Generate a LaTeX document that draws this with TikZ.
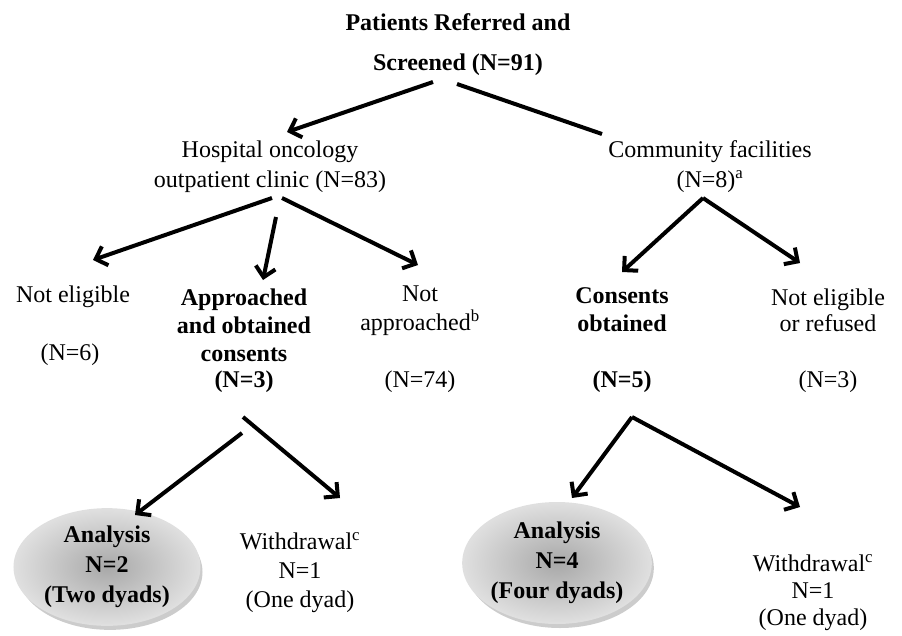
\documentclass[tikz,border=0pt]{standalone}
\usepackage{fontspec}
\setmainfont{Liberation Serif}
\usetikzlibrary{arrows.meta,shapes.geometric,shadows}

\begin{document}
\begin{tikzpicture}[
  x=1pt, y=-1pt,
  txt/.style={font=\fontsize{24}{29}\selectfont, align=center, inner sep=0pt},
  btxt/.style={font=\fontsize{24}{28}\selectfont\bfseries, align=center, inner sep=0pt},
  arr/.style={line width=4pt, -{Straight Barb[length=10pt,width=20pt]}},
  lnk/.style={line width=4pt},
  oval/.style={ellipse, inner sep=0pt, inner color=gray!68, outer color=gray!25,
    draw=white!75!gray, line width=2pt,
    drop shadow={opacity=0.5, shadow xshift=3pt, shadow yshift=-5pt, fill=gray!80}},
]
\useasboundingbox (0,0) rectangle (902,635);

\node [btxt, font=\fontsize{24}{40}\selectfont\bfseries] (top) at (458,45) {Patients Referred and\\Screened (N=91)};

\node [txt, font=\fontsize{24}{30}\selectfont] (hosp) at (270,167) {Hospital oncology\\outpatient clinic (N=83)};
\node [txt, font=\fontsize{24}{30}\selectfont] (comm) at (710,167) {Community facilities\\(N=8)\textsuperscript{a}};

\node [txt] (nelig) at (73,297) {Not eligible};
\node [txt] (nelign) at (70,355) {(N=6)};
\node [btxt] (appr) at (244,325) {Approached\\and obtained\\consents};
\node [btxt] (apprn) at (244,382) {(N=3)};
\node [txt] (nappr) at (420,311) {Not\\approached\textsuperscript{b}};
\node [txt] (napprn) at (420,382) {(N=74)};

\node [btxt] (cons) at (622,310) {Consents\\obtained};
\node [btxt] (consn) at (622,382) {(N=5)};
\node [txt, font=\fontsize{24}{26}\selectfont] (nref) at (828,310) {Not eligible\\or refused};
\node [txt] (nrefn) at (828,382) {(N=3)};

\node [oval, btxt, minimum width=185pt, minimum height=112pt, font=\fontsize{24}{30}\selectfont\bfseries] (anl) at (107,567) {Analysis\\N=2\\(Two dyads)};
\node [txt] (wdl) at (300,573) {Withdrawal\textsuperscript{c}\\N=1\\(One dyad)};
\node [oval, btxt, minimum width=148pt, minimum height=120pt, font=\fontsize{24}{30}\selectfont\bfseries] (anr) at (557,563) {Analysis\\N=4\\(Four dyads)};
\node [txt, font=\fontsize{24}{27}\selectfont] (wdr) at (813,593) {Withdrawal\textsuperscript{c}\\N=1\\(One dyad)};

% arrow ends
\coordinate (topl) at (433,82);
\coordinate (topr) at (457,84);
\coordinate (hospin) at (287,132);
\coordinate (commin) at (602,134);
\coordinate (hospl) at (272,198);
\coordinate (hospm) at (276,217);
\coordinate (hospr) at (282,198);
\coordinate (neligin) at (93,260);
\coordinate (apprin) at (263,280);
\coordinate (napprin) at (418,265);
\coordinate (commout) at (703,198);
\coordinate (consin) at (622,272);
\coordinate (nrefin) at (800,263);
\coordinate (apprl) at (242,433);
\coordinate (apprr) at (243,417);
\coordinate (anlin) at (135,515);
\coordinate (wdlin) at (340,498);
\coordinate (consout) at (632,417);
\coordinate (anrin) at (572,498);
\coordinate (wdrin) at (800,507);

\draw [arr] (topl) -- (hospin);
\draw [lnk] (topr) -- (commin);

\draw [arr] (hospl) -- (neligin);
\draw [arr] (hospm) -- (apprin);
\draw [arr] (hospr) -- (napprin);

\draw [arr] (commout) -- (consin);
\draw [arr] (commout) -- (nrefin);

\draw [arr] (apprl) -- (anlin);
\draw [arr] (apprr) -- (wdlin);

\draw [arr] (consout) -- (anrin);
\draw [arr] (consout) -- (wdrin);

\end{tikzpicture}
\end{document}
